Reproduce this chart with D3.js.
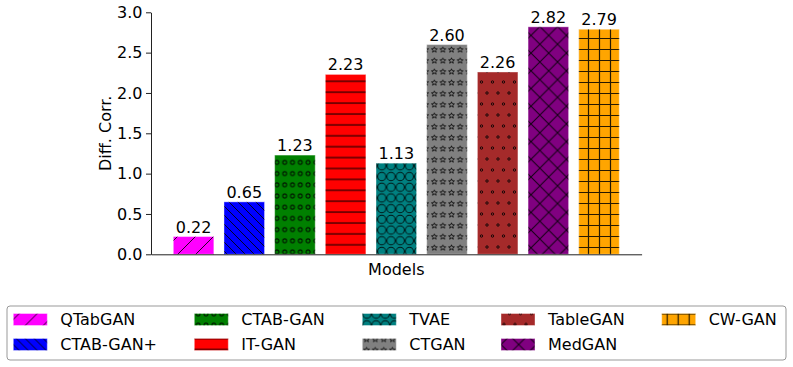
<!DOCTYPE html>
<html>
<head>
<meta charset="utf-8">
<script src="https://cdn.jsdelivr.net/npm/d3@7"></script>
<style>
  body { margin: 0; background: #fff; }
  svg text { font-family: "DejaVu Sans", sans-serif; fill: #000; }
</style>
</head>
<body>
<svg id="barChart" width="793" height="367"></svg>
<script>
// values
const models = ['QTabGAN', 'CTAB-GAN+', 'CTAB-GAN', 'IT-GAN', 'TVAE', 'CTGAN', 'TableGAN', 'MedGAN', 'CW-GAN'];
const diffCorr = [0.22, 0.65, 1.23, 2.23, 1.13, 2.60, 2.26, 2.82, 2.79];
const barColors = ['#ff00ff', '#0000ff', '#008000', '#ff0000', '#008080', '#808080', '#a52a2a', '#800080', '#ffa500'];
const hatches = ['/', '\\\\', 'o', '-', 'O', '*', '.', 'x', '+'];
const yTicks = [0, 0.5, 1, 1.5, 2, 2.5, 3];

var svg = d3.select('#barChart');
var defs = svg.append('defs');

// plot area (window.top is reserved, so use a box object)
var plot = {left: 151, right: 641.6, top: 12.3, bottom: 254.3};

var xScale = d3.scaleBand()
  .domain(models)
  .range([plot.left, plot.right])
  .paddingInner(0.2)
  .paddingOuter(0.44);

var yScale = d3.scaleLinear()
  .domain([0, 3])
  .range([plot.bottom, plot.top]);

// star outline used by the '*' hatch
function starPath(cx, cy, ro, ri) {
  var pts = [];
  for (var i = 0; i < 10; i++) {
    var r = i % 2 ? ri : ro;
    var a = -Math.PI / 2 + i * Math.PI / 5;
    pts.push([cx + r * Math.cos(a), cy + r * Math.sin(a)]);
  }
  return 'M' + pts.map(p => p.join(',')).join('L') + 'Z';
}

// build one svg pattern per hatch style
function makeHatch(id, h) {
  var p = defs.append('pattern')
    .attr('id', id)
    .attr('patternUnits', 'userSpaceOnUse');
  var stroke = (sel) => sel.attr('fill', 'none').attr('stroke', '#000').attr('stroke-opacity', 0.85).attr('stroke-width', 1);
  if (h === '/') {
    p.attr('width', 18).attr('height', 18);
    p.append('path').attr('d', 'M-2,2L2,-2M0,18L18,0M16,20L20,16').call(stroke);
  } else if (h === '\\\\') {
    p.attr('width', 9).attr('height', 9);
    p.append('path').attr('d', 'M-2,7L2,11M0,0L9,9M7,-2L11,2').call(stroke);
  } else if (h === 'x') {
    p.attr('width', 17.7).attr('height', 17.7);
    p.append('path').attr('d', 'M-2,2L2,-2M0,17.7L17.7,0M15.7,19.7L19.7,15.7M-2,15.7L2,19.7M0,0L17.7,17.7M15.7,-2L19.7,2').call(stroke);
  } else if (h === '-') {
    p.attr('width', 11).attr('height', 10.9);
    p.append('path').attr('d', 'M0,5L11,5').call(stroke).attr('stroke-width', 1.2);
  } else if (h === '+') {
    p.attr('width', 11).attr('height', 11);
    p.append('path').attr('d', 'M0,5.5L11,5.5M5.5,0L5.5,11').call(stroke).attr('stroke-width', 1.2);
  } else if (h === 'o') {
    p.attr('width', 7.8).attr('height', 11.2);
    p.append('circle').attr('cx', 3.9).attr('cy', 5.6).attr('r', 2).call(stroke);
  } else if (h === 'O') {
    p.attr('width', 9.2).attr('height', 10.7);
    p.append('circle').attr('cx', 4.6).attr('cy', 5.35).attr('r', 4.1).call(stroke);
  } else if (h === '*') {
    p.attr('width', 8.6).attr('height', 11);
    p.append('path').attr('d', starPath(4.3, 5.8, 3, 1.3)).call(stroke).attr('stroke-width', 0.9);
  } else if (h === '.') {
    p.attr('width', 11).attr('height', 22);
    p.append('circle').attr('cx', 3).attr('cy', 5).attr('r', 1.2).call(stroke);
    p.append('circle').attr('cx', 8.5).attr('cy', 16).attr('r', 1.2).call(stroke);
  }
}
hatches.forEach((h, i) => makeHatch('hatch' + i, h));

// the bars: colour, hatch on top, light edge
var bars = svg.append('g').selectAll('g')
  .data(models)
  .enter().append('g');

bars.append('rect')
  .attr('x', d => xScale(d))
  .attr('y', (d, i) => yScale(diffCorr[i]))
  .attr('width', xScale.bandwidth())
  .attr('height', (d, i) => yScale(0) - yScale(diffCorr[i]))
  .attr('fill', (d, i) => barColors[i]);

bars.append('rect')
  .attr('x', d => xScale(d))
  .attr('y', (d, i) => yScale(diffCorr[i]))
  .attr('width', xScale.bandwidth())
  .attr('height', (d, i) => yScale(0) - yScale(diffCorr[i]))
  .attr('fill', (d, i) => 'url(#hatch' + i + ')')
  .attr('stroke', '#fff')
  .attr('stroke-opacity', 0.4)
  .attr('stroke-width', 1);

// value labels on top of bars
bars.append('text')
  .attr('x', d => xScale(d) + xScale.bandwidth() / 2)
  .attr('y', (d, i) => yScale(diffCorr[i]) - 4)
  .attr('text-anchor', 'middle')
  .style('font-size', '16px')
  .text((d, i) => d3.format('.2f')(diffCorr[i]));

// y axis
var yAxis = d3.axisLeft(yScale)
  .tickValues(yTicks)
  .tickFormat(d3.format('.1f'))
  .tickSize(5)
  .tickSizeOuter(0)
  .tickPadding(3.5);

var appendedYAxis = svg.append('g')
  .attr('transform', 'translate(' + plot.left + ',0)')
  .call(yAxis);
appendedYAxis.selectAll('text').style('font-size', '16px').attr('fill', '#000');
appendedYAxis.selectAll('line, path').attr('stroke', '#222');

// x axis, no ticks
var xAxis = d3.axisBottom(xScale).tickValues([]).tickSizeOuter(0);
var appendedXAxis = svg.append('g')
  .attr('transform', 'translate(0,' + plot.bottom + ')')
  .call(xAxis);
appendedXAxis.selectAll('path').attr('stroke', '#222');

// axis titles
svg.append('text')
  .attr('x', (plot.left + plot.right) / 2)
  .attr('y', 275)
  .attr('text-anchor', 'middle')
  .style('font-size', '16px')
  .text('Models');

svg.append('text')
  .attr('transform', 'translate(111,' + (plot.top + plot.bottom) / 2 + ') rotate(-90)')
  .attr('text-anchor', 'middle')
  .style('font-size', '16px')
  .text('Diff. Corr.');

// legend, 5 columns filled column by column
var legendColX = [13.3, 194.3, 362.3, 501, 661.7];
var legendRowY = [319.5, 344.5];

var legend = svg.append('g');
legend.append('rect')
  .attr('x', 7).attr('y', 306)
  .attr('width', 779).attr('height', 54)
  .attr('rx', 3)
  .attr('fill', '#fff')
  .attr('stroke', '#999')
  .attr('stroke-width', 1);

var items = legend.selectAll('g.item')
  .data(models)
  .enter().append('g')
  .attr('class', 'item')
  .attr('transform', (d, i) => 'translate(' + legendColX[Math.floor(i / 2)] + ',' + legendRowY[i % 2] + ')');

items.append('rect')
  .attr('y', -6).attr('width', 34).attr('height', 12)
  .attr('fill', (d, i) => barColors[i]);
items.append('rect')
  .attr('y', -6).attr('width', 34).attr('height', 12)
  .attr('fill', (d, i) => 'url(#hatch' + i + ')')
  .attr('stroke', '#fff')
  .attr('stroke-opacity', 0.4);
items.append('text')
  .attr('x', 47)
  .attr('dy', '0.35em')
  .style('font-size', '16px')
  .text(d => d);
</script>
</body>
</html>
